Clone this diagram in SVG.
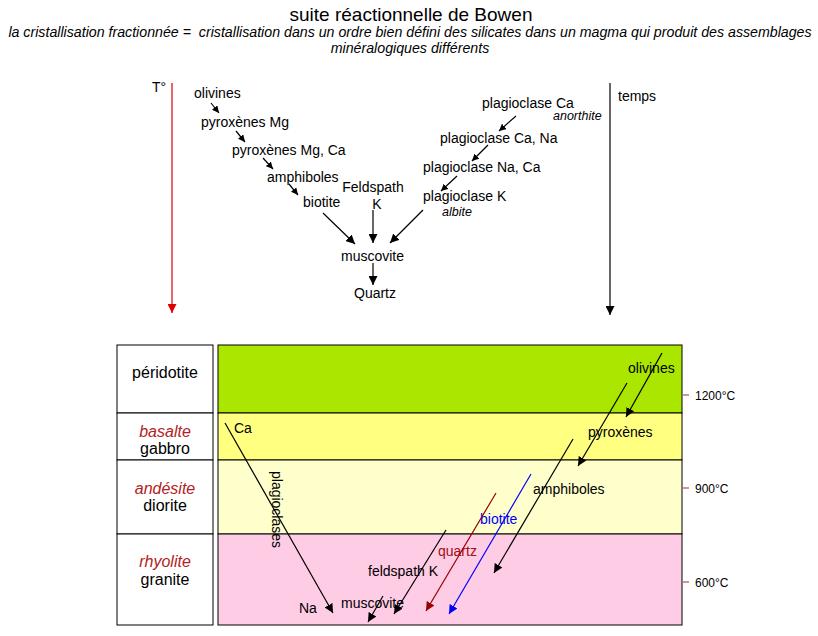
<svg xmlns="http://www.w3.org/2000/svg" width="818" height="636" viewBox="0 0 818 636">
<defs>
<style>
text{font-family:"Liberation Sans",Arial,sans-serif;fill:#000}
.t14{font-size:14px}
.t16{font-size:16px}
.t12{font-size:12px}
.it{font-style:italic}
.red{fill:#b22222}
.ln{stroke:#000;stroke-width:1.2;fill:none}
.box{stroke:#000;stroke-width:1;fill:#fff}
.band{stroke:#000;stroke-width:1}
</style>
<marker id="ah" viewBox="0 0 10 10" refX="10" refY="5" markerWidth="9" markerHeight="9" markerUnits="userSpaceOnUse" orient="auto"><path d="M0,0L10,5L0,10z" fill="#000"/></marker>
<marker id="ahs" viewBox="0 0 10 10" refX="10" refY="5" markerWidth="7" markerHeight="7" markerUnits="userSpaceOnUse" orient="auto"><path d="M0,0L10,5L0,10z" fill="#000"/></marker>
<marker id="ahr" viewBox="0 0 10 10" refX="10" refY="5" markerWidth="9" markerHeight="9" markerUnits="userSpaceOnUse" orient="auto"><path d="M0,0L10,5L0,10z" fill="#e00000"/></marker>
<marker id="ahd" viewBox="0 0 10 10" refX="10" refY="5" markerWidth="9" markerHeight="9" markerUnits="userSpaceOnUse" orient="auto"><path d="M0,0L10,5L0,10z" fill="#990000"/></marker>
<marker id="ahb" viewBox="0 0 10 10" refX="10" refY="5" markerWidth="9" markerHeight="9" markerUnits="userSpaceOnUse" orient="auto"><path d="M0,0L10,5L0,10z" fill="#0000ff"/></marker>
</defs>
<rect width="818" height="636" fill="#fff"/>

<g id="title">
<text x="411" y="21" font-size="19" text-anchor="middle">suite réactionnelle de Bowen</text>
<text x="410" y="37" font-size="14.2" class="it" text-anchor="middle" xml:space="preserve">la cristallisation fractionnée =  cristallisation dans un ordre bien défini des silicates dans un magma qui produit des assemblages</text>
<text x="410" y="53" font-size="14.2" class="it" text-anchor="middle">minéralogiques différents</text>
</g>

<g id="axis-T">
<text x="152" y="92" class="t14">T°</text>
<line x1="172" y1="83" x2="172" y2="313" stroke="#e00000" stroke-width="1.2" marker-end="url(#ahr)"/>
</g>
<g id="axis-temps">
<text x="618" y="101" class="t14">temps</text>
<line x1="610" y1="83" x2="610" y2="315" class="ln" marker-end="url(#ah)"/>
</g>

<g id="n-olivines"><text x="194" y="98" class="t14">olivines</text></g>
<g id="n-pyroxenesMg"><text x="201" y="127" class="t14">pyroxènes Mg</text></g>
<g id="n-pyroxenesMgCa"><text x="232" y="155" class="t14">pyroxènes Mg, Ca</text></g>
<g id="n-amphiboles"><text x="267" y="182" class="t14">amphiboles</text></g>
<g id="n-biotite"><text x="303" y="207" class="t14">biotite</text></g>
<g id="n-feldspath"><text x="373" y="192" class="t14" text-anchor="middle">Feldspath</text><text x="377" y="209" class="t14" text-anchor="middle">K</text></g>
<g id="n-muscovite"><text x="341" y="261" class="t14">muscovite</text></g>
<g id="n-quartz"><text x="354" y="298" class="t14">Quartz</text></g>
<g id="n-plagCa"><text x="482" y="108" class="t14">plagioclase Ca</text><text x="553" y="120" font-size="12.5" class="it">anorthite</text></g>
<g id="n-plagCaNa"><text x="440" y="143" class="t14">plagioclase Ca, Na</text></g>
<g id="n-plagNaCa"><text x="423" y="172" class="t14">plagioclase Na, Ca</text></g>
<g id="n-plagK"><text x="423" y="201" class="t14">plagioclase K</text><text x="442" y="216" font-size="12.5" class="it">albite</text></g>

<g id="connectors-top">
<line x1="211" y1="103" x2="219" y2="113" class="ln" marker-end="url(#ahs)"/>
<line x1="236" y1="131" x2="245" y2="142" class="ln" marker-end="url(#ahs)"/>
<line x1="263" y1="158" x2="273" y2="169" class="ln" marker-end="url(#ahs)"/>
<line x1="289" y1="184" x2="298" y2="195" class="ln" marker-end="url(#ahs)"/>
<line x1="323" y1="213" x2="355" y2="244" class="ln" marker-end="url(#ah)"/>
<line x1="373" y1="210" x2="373" y2="243" class="ln" marker-end="url(#ah)"/>
<line x1="423" y1="210" x2="390" y2="243" class="ln" marker-end="url(#ah)"/>
<line x1="373" y1="263" x2="373" y2="285" class="ln" marker-end="url(#ah)"/>
<line x1="516" y1="116" x2="499" y2="131" class="ln" marker-end="url(#ahs)"/>
<line x1="488" y1="145" x2="472" y2="161" class="ln" marker-end="url(#ahs)"/>
<line x1="457" y1="176" x2="441" y2="191" class="ln" marker-end="url(#ahs)"/>
</g>

<g id="rock-column">
<rect x="117" y="345" width="96" height="68" class="box"/>
<rect x="117" y="413" width="96" height="47" class="box"/>
<rect x="117" y="460" width="96" height="74" class="box"/>
<rect x="117" y="534" width="96" height="91" class="box"/>
<text x="165" y="378" class="t16" text-anchor="middle">péridotite</text>
<text x="165" y="437" class="t16 it red" text-anchor="middle">basalte</text>
<text x="165" y="454" class="t16" text-anchor="middle">gabbro</text>
<text x="165" y="494" class="t16 it red" text-anchor="middle">andésite</text>
<text x="165" y="511" class="t16" text-anchor="middle">diorite</text>
<text x="165" y="567" class="t16 it red" text-anchor="middle">rhyolite</text>
<text x="165" y="585" class="t16" text-anchor="middle">granite</text>
</g>

<g id="bands">
<rect x="218" y="345" width="464" height="68" fill="#aae600" class="band"/>
<rect x="218" y="413" width="464" height="47" fill="#ffff80" class="band"/>
<rect x="218" y="460" width="464" height="74" fill="#ffffcc" class="band"/>
<rect x="218" y="534" width="464" height="91" fill="#ffcce6" class="band"/>
</g>

<g id="temperature-scale">
<line x1="683" y1="395" x2="689" y2="395" stroke="#993333" stroke-width="1"/>
<line x1="683" y1="488" x2="689" y2="488" stroke="#993333" stroke-width="1"/>
<line x1="683" y1="582" x2="689" y2="582" stroke="#993333" stroke-width="1"/>
<text x="695" y="400" class="t12">1200°C</text>
<text x="695" y="493" class="t12">900°C</text>
<text x="695" y="587" class="t12">600°C</text>
</g>

<g id="table-labels">
<text x="234" y="433" class="t14">Ca</text>
<text x="299" y="613" class="t14">Na</text>
<text transform="translate(272,471) rotate(90)" class="t14">plagioclases</text>
<text x="628" y="373" class="t14">olivines</text>
<text x="588" y="437" class="t14">pyroxènes</text>
<text x="533" y="494" class="t14">amphiboles</text>
<text x="480" y="524" class="t14" style="fill:#0000ff">biotite</text>
<text x="438" y="556" class="t14" style="fill:#a01010">quartz</text>
<text x="368" y="576" class="t14">feldspath K</text>
<text x="341" y="608" class="t14">muscovite</text>
</g>

<g id="connectors-table">
<line x1="225" y1="423" x2="333" y2="613" class="ln" marker-end="url(#ah)"/>
<line x1="662" y1="353" x2="626" y2="417" class="ln" marker-end="url(#ah)"/>
<line x1="627" y1="383" x2="578" y2="466" class="ln" marker-end="url(#ah)"/>
<line x1="573" y1="439" x2="494" y2="573" class="ln" marker-end="url(#ah)"/>
<line x1="531" y1="474" x2="449" y2="614" stroke="#0000ff" stroke-width="1.2" marker-end="url(#ahb)"/>
<line x1="496" y1="493" x2="426" y2="611" stroke="#990000" stroke-width="1.2" marker-end="url(#ahd)"/>
<line x1="446" y1="530" x2="394" y2="614" class="ln" marker-end="url(#ah)"/>
<line x1="383" y1="596" x2="368" y2="622" class="ln" marker-end="url(#ah)"/>
</g>
</svg>
